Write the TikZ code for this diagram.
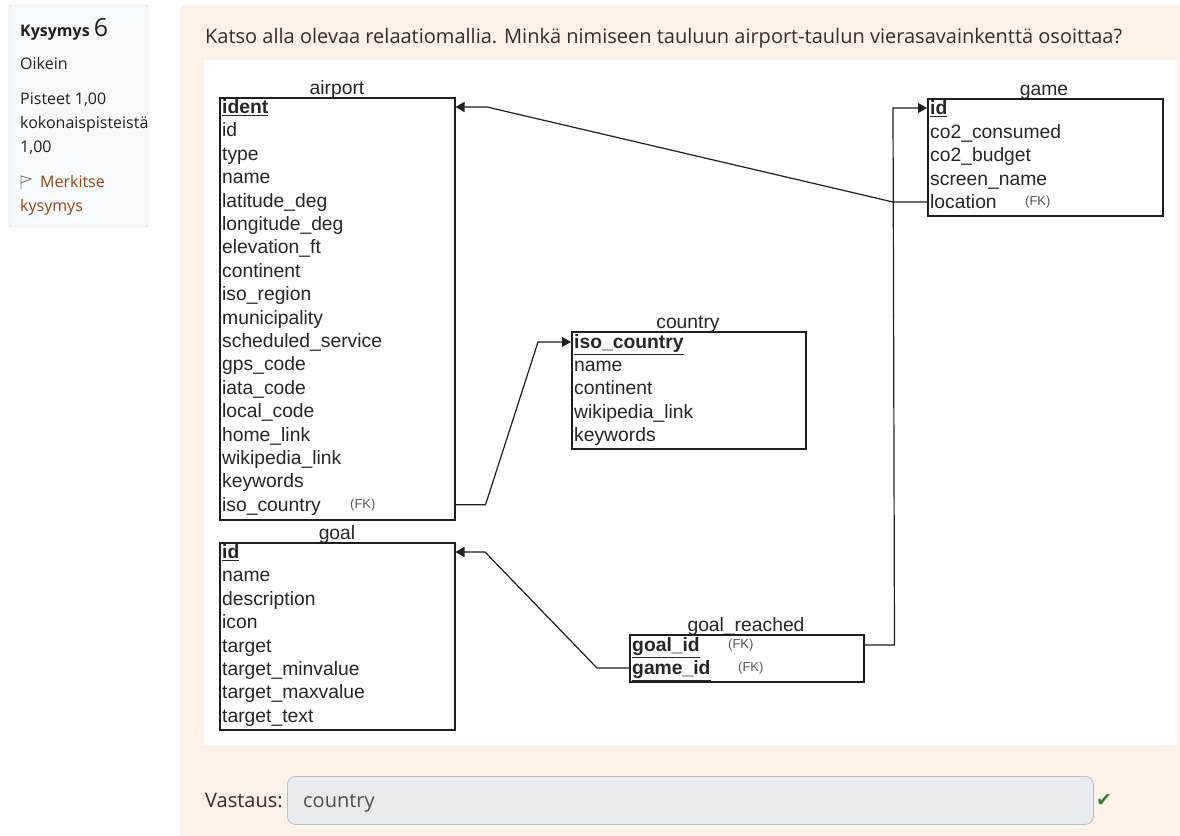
\documentclass[tikz,border=0pt]{standalone}
\usepackage{fontspec}
\setmainfont{Liberation Sans}
\newfontfamily\uifont{Open Sans}
\newfontfamily\qfont{Open Sans}
\newfontfamily\symfont{DejaVu Sans}
\usetikzlibrary{arrows.meta}
\definecolor{qbg}{HTML}{FEF1E9}
\definecolor{infobg}{HTML}{F8F9FA}
\definecolor{infoline}{HTML}{CDD2D8}
\definecolor{uitext}{HTML}{1D2125}
\definecolor{qtext}{HTML}{3E2A20}
\definecolor{linktext}{HTML}{8B4A1C}
\definecolor{tblline}{HTML}{1E1E1E}
\definecolor{fldtext}{HTML}{262626}
\definecolor{fktext}{HTML}{555555}
\definecolor{ansbg}{HTML}{E9ECEF}
\definecolor{ansline}{HTML}{B8BEC4}
\definecolor{okgreen}{HTML}{3B7D2F}
\newcommand{\pkey}[1]{\underline{\textbf{#1}}}

\begin{document}
\begin{tikzpicture}[x=1pt,y=-1pt,
  tbl/.style={draw=tblline,line width=1.5pt,inner sep=0pt,anchor=north west},
  fld/.style={anchor=west,inner sep=0pt,text height=13pt,text depth=0pt,
    font=\fontsize{19.3pt}{22pt}\selectfont,text=fldtext},
  ttl/.style={anchor=base,inner sep=0pt,font=\fontsize{19.3pt}{22pt}\selectfont,text=fldtext},
  fkey/.style={anchor=west,inner sep=0pt,font=\fontsize{13pt}{15pt}\selectfont,text=fktext},
  ui/.style={anchor=base west,inner sep=0pt,font=\uifont\fontsize{16pt}{18pt}\selectfont,text=uitext},
  qtxt/.style={anchor=base west,inner sep=0pt,font=\qfont\fontsize{20pt}{24pt}\selectfont,text=qtext},
  fklink/.style={line width=1.2pt,draw=tblline,-{Triangle[length=9pt,width=10pt]}}]

  \useasboundingbox (0,0) rectangle (1180,835);
  \fill[white] (0,0) rectangle (1180,835);

  % info panel
  \draw[infoline,fill=infobg,rounded corners=3pt] (9,5) rectangle (148,227);
  \node[ui] (kys) at (20,36) {\textbf{Kysymys} {\fontsize{25pt}{27pt}\selectfont 6}};
  \node[ui] (oik) at (20,69) {Oikein};
  \node[ui] (pis1) at (20,104) {Pisteet 1,00};
  \node[ui] (pis2) at (20,128) {kokonaispisteistä};
  \node[ui] (pis3) at (20,152) {1,00};
  \draw[gray,line width=0.9pt] (21,189) -- (21,176) -- (31,179) -- (21,183);
  \node[ui,text=linktext] (mrk1) at (40,187) {Merkitse};
  \node[ui,text=linktext] (mrk2) at (20,211) {kysymys};

  % question area
  \fill[qbg,rounded corners=6pt] (180,5) rectangle (1190,845);
  \node[qtxt] (q) at (205,43) {Katso alla olevaa relaatiomallia. Minkä nimiseen tauluun airport-taulun vierasavainkenttä osoittaa?};
  \fill[white] (204,60) rectangle (1177,745);

  % airport
  \node[ttl] at (337,94) {airport};
  \node[tbl,minimum width=235pt,minimum height=422pt] (airport) at (219,97) {};
  \node[fld] (ap0) at (222,107) {\pkey{ident}};
  \foreach \f [count=\i] in {id,type,name,latitude\_deg,longitude\_deg,elevation\_ft,
    continent,iso\_region,municipality,scheduled\_service,gps\_code,iata\_code,
    local\_code,home\_link,wikipedia\_link,keywords,iso\_country}
    \node[fld] (ap\i) at (222,{107+23.4*\i}) {\f};
  \node[fkey] at (350,0 |- ap17) {(FK)};

  % game
  \node[ttl] at (1044,95) {game};
  \node[tbl,minimum width=235pt,minimum height=117pt] (game) at (927,98) {};
  \node[fld] (gm0) at (930,108) {\pkey{id}};
  \foreach \f [count=\i] in {co2\_consumed,co2\_budget,screen\_name,location}
    \node[fld] (gm\i) at (930,{108+23.5*\i}) {\f};
  \node[fkey] at (1025,0 |- gm4) {(FK)};

  % country
  \node[ttl] at (688,328) {country};
  \node[tbl,minimum width=234pt,minimum height=117pt] (country) at (571,331) {};
  \node[fld] (co0) at (574,342) {\pkey{iso\_country}};
  \foreach \f [count=\i] in {name,continent,wikipedia\_link,keywords}
    \node[fld] (co\i) at (574,{342+23.2*\i}) {\f};

  % goal
  \node[ttl] at (337,539) {goal};
  \node[tbl,minimum width=235pt,minimum height=187pt] (goal) at (219,542) {};
  \node[fld] (gl0) at (222,552) {\pkey{id}};
  \foreach \f [count=\i] in {name,description,icon,target,target\_minvalue,
    target\_maxvalue,target\_text}
    \node[fld] (gl\i) at (222,{552+23.4*\i}) {\f};

  % goal_reached
  \node[ttl] at (746,631) {goal\_reached};
  \node[tbl,minimum width=234pt,minimum height=47pt] (reached) at (629,634) {};
  \node[fld] (gr0) at (632,645) {\pkey{goal\_id}};
  \node[fld] (gr1) at (632,668) {\pkey{game\_id}};
  \node[fkey] at (728,0 |- gr0) {(FK)};
  \node[fkey] at (738,0 |- gr1) {(FK)};

  % links
  \draw[fklink] (game.west |- gm4) -- ++(-34,0) -- (487,0 |- ap0) -- (airport.east |- ap0);
  \draw[fklink] (airport.east |- ap17) -- ++(30,0) -- (538,0 |- co0) -- (country.west |- co0);
  \draw[fklink] (reached.west |- gr1) -- ++(-32,0) -- (485,0 |- gl0) -- (goal.east |- gl0);
  \draw[fklink] (reached.east |- gr0) -- ++(30,0) -- (893,0 |- gm0) -- (game.west |- gm0);

  % answer
  \node[qtxt] (vast) at (205,807) {Vastaus:};
  \node[draw=ansline,fill=ansbg,rounded corners=8pt,line width=0.8pt,anchor=north west,
    minimum width=806pt,minimum height=48pt] (answer) at (287,776) {};
  \node[qtxt,text=uitext!80] (ans) at (303,807) {country};
  \node[anchor=west,inner sep=0pt,text=okgreen,font=\symfont\fontsize{19pt}{21pt}\selectfont] (ok) at (1096,800) {✔};
\end{tikzpicture}
\end{document}
